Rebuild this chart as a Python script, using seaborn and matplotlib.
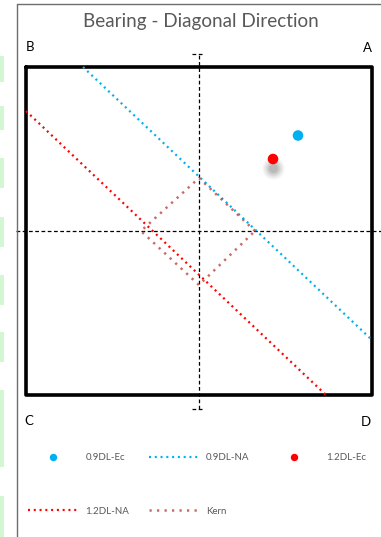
import numpy as np
import pandas as pd
import matplotlib
matplotlib.use("Agg")
import matplotlib.pyplot as plt
from matplotlib.lines import Line2D
from matplotlib.patches import Rectangle
import seaborn as sns

# bearing plate (half sizes) and section axes
half_b = 1.73
half_l = 1.64
axis_v_y = [-1.78, 1.77]
axis_h_x = [-1.83, 1.83]

# eccentricity points
ecc_names = ["0.9DL-Ec", "1.2DL-Ec"]
ecc_x = [0.99, 0.74]
ecc_y = [0.955, 0.72]

# neutral axes (end points on the plate edge)
na09_x = [-1.16, 1.73]
na09_y = [1.64, -1.09]
na12_x = [-1.73, 1.27]
na12_y = [1.20, -1.64]

# kern (middle third) diamond
kern_x = [0.56, 0.0, -0.58, 0.0, 0.56]
kern_y = [0.0, 0.53, 0.0, -0.54, 0.0]

corner_labels = ["B", "A", "C", "D"]

sns.set_theme(style="white")
plt.rcParams["font.family"] = ["Lato", "DejaVu Sans"]

fig = plt.figure(figsize=(3.81, 5.37), dpi=100)
ax = fig.add_axes([0, 0, 1, 1])
ax.set_xlim(-1.99, 1.82)
ax.set_ylim(-3.06, 2.31)
ax.set_axis_off()

# spreadsheet leftovers at the left edge + chart frame
for y0, y1 in [(56, 82), (106, 130), (158, 188), (217, 247), (275, 305), (332, 362), (390, 467), (496, 537)]:
    fig.add_artist(Rectangle((0, 1 - y1 / 537), 3.5 / 381, (y1 - y0) / 537,
                             transform=fig.transFigure, color="#d3f7d3", lw=0))
fig.add_artist(Line2D([16.5 / 381, 16.5 / 381], [0, 1 - 3.5 / 537], transform=fig.transFigure, color="#6e6e6e", lw=1))
fig.add_artist(Line2D([16.5 / 381, 1], [1 - 3.5 / 537, 1 - 3.5 / 537], transform=fig.transFigure, color="#6e6e6e", lw=1))

# section axes (dashed)
dash = (0, (3, 2))
ax.plot([0, 0], axis_v_y, color="black", lw=0.9, ls=dash, zorder=1)
ax.plot([-0.07, 0.03], [axis_v_y[1], axis_v_y[1]], color="black", lw=0.9, ls=dash, zorder=1)
ax.plot([-0.07, 0.03], [axis_v_y[0], axis_v_y[0]], color="black", lw=0.9, ls=dash, zorder=1)
ax.plot(axis_h_x, [0, 0], color="black", lw=0.9, ls=dash, zorder=1)

# bearing plate
ax.plot([-half_b, half_b, half_b, -half_b, -half_b],
        [half_l, half_l, -half_l, -half_l, half_l], color="black", lw=2.6, zorder=2)

dots = (0, (0.9, 1.7))
kern_dots = (0, (0.9, 2.1))
na09 = pd.DataFrame({"x": na09_x, "y": na09_y})
na12 = pd.DataFrame({"x": na12_x, "y": na12_y})
kern = pd.DataFrame({"x": kern_x, "y": kern_y})
sns.lineplot(data=na09, x="x", y="y", sort=False, estimator=None, color="#00b0f0",
             lw=1.6, ls=dots, dash_capstyle="butt", label="0.9DL-NA", ax=ax, zorder=3)
sns.lineplot(data=na12, x="x", y="y", sort=False, estimator=None, color="#ff0000",
             lw=1.6, ls=dots, dash_capstyle="butt", label="1.2DL-NA", ax=ax, zorder=3)
sns.lineplot(data=kern, x="x", y="y", sort=False, estimator=None, color="#c0504d",
             lw=1.8, ls=kern_dots, dash_capstyle="butt", alpha=0.85, label="Kern", ax=ax, zorder=3)

# soft shadow under the 1.2DL point
for s, a in [(260, 0.05), (190, 0.07), (130, 0.09), (80, 0.12), (40, 0.15)]:
    ax.scatter([ecc_x[1]], [ecc_y[1] - 0.09], s=s, color="#555555", alpha=a, lw=0, zorder=3)

ecc = pd.DataFrame({"x": ecc_x, "y": ecc_y, "name": ecc_names})
sns.scatterplot(data=ecc, x="x", y="y", hue="name", palette=["#00b0f0", "#ff0000"],
                s=58, linewidth=0, ax=ax, zorder=4)

# title and corner labels
fig.text(200.5 / 381, 1 - 21 / 537, "Bearing - Diagonal Direction", ha="center", va="center",
         fontsize=13.6, color="#595959")
corner_pos = [(26, 47), (372, 48), (24, 421), (371, 422)]
for lab, (px, py) in zip(corner_labels, corner_pos):
    fig.text(px / 381, 1 - py / 537, lab, ha="left" if px < 200 else "right", va="center",
             fontsize=9.5, color="black")

handles, labels = ax.get_legend_handles_labels()
ax.get_legend().remove()
lookup = dict(zip(labels, handles))
order = ["0.9DL-Ec", "1.2DL-NA", "0.9DL-NA", "Kern", "1.2DL-Ec"]
fig.legend([lookup[k] for k in order], order, ncol=3, loc="upper left",
           bbox_to_anchor=(28 / 381, 1 - 453 / 537), frameon=False, fontsize=7,
           labelcolor="#595959", handlelength=5.2, handletextpad=0.7, columnspacing=2.0,
           labelspacing=4.6, borderpad=0, borderaxespad=0, markerscale=0.7)

fig.savefig("out.png", dpi=100)
